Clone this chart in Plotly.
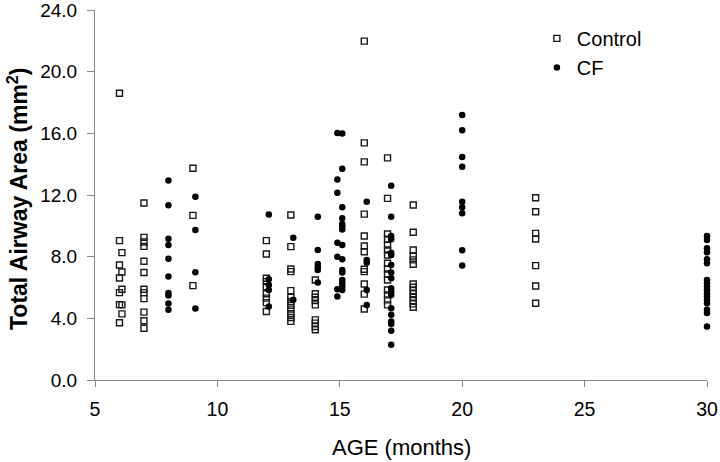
import plotly.graph_objects as go

# ---- Data ----
control_age = (
    [6.0] * 7 + [6.1] * 5 + [7.0] * 12 + [9.0] * 3 + [12.0] * 9 + [13.0] * 12
    + [14.0] * 9 + [16.0] * 12 + [16.95] * 15 + [18.0] * 14 + [23.0] * 7
)
control_area = [
    18.6, 9.04, 7.46, 6.62, 5.67, 4.89, 3.71,
    8.26, 7.01, 5.89, 4.87, 4.29,
    11.48, 9.25, 8.95, 8.67, 7.70, 6.97, 5.89, 5.67, 5.28, 4.40, 3.84, 3.36,
    13.74, 10.68, 6.12,
    9.04, 8.17, 6.6, 6.38, 6.06, 5.59, 5.31, 5.02, 4.44,
    10.7, 8.65, 7.2, 7.03, 5.8, 5.37, 5.1, 4.85, 4.6, 4.3, 4.05, 3.8,
    6.49, 5.59, 5.37, 5.15, 4.87, 3.9, 3.69, 3.47, 3.26,
    21.98, 15.38, 14.15, 10.76, 9.34, 8.69, 8.32, 7.18, 7.03, 6.23, 5.57, 4.61,
    14.41, 11.78, 9.47, 9.13, 8.76, 8.43, 8.11, 7.57, 7.2, 6.88, 6.49, 5.84, 5.52, 5.2, 4.87,
    11.35, 9.58, 8.43, 8.04, 7.79, 7.51, 6.23, 6.02, 5.8, 5.59, 5.37, 5.15, 4.94, 4.72,
    11.82, 10.91, 9.51, 9.15, 7.42, 6.1, 4.98,
]

cf_age = (
    [8.0] * 10 + [9.1] * 4 + [12.1] * 5 + [13.1] * 2 + [14.1] * 6 + [14.9] * 7
    + [15.1] * 15 + [16.1] * 5 + [17.1] * 18 + [20.0] * 9 + [30.0] * 17
)
cf_area = [
    12.94, 11.33, 9.17, 8.76, 7.87, 6.71, 5.65, 5.48, 4.96, 4.55,
    11.89, 9.73, 6.99, 4.64,
    10.74, 6.54, 6.17, 5.84, 4.77,
    9.23, 5.2,
    10.59, 8.43, 7.53, 7.31, 7.14, 6.32,
    16.02, 13.01, 12.14, 8.91, 8.0, 5.89, 5.41,
    15.99, 13.7, 11.2, 10.49, 10.12, 9.94, 9.77, 8.76, 7.83, 7.14, 6.97, 6.49, 6.28, 6.06, 5.84,
    11.56, 7.79, 7.61, 5.84, 4.87,
    12.6, 10.59, 9.34, 9.13, 8.26, 8.11, 7.46, 6.97, 6.6, 5.95, 5.73, 5.52, 4.66, 4.23, 3.79, 3.64, 3.19, 2.28,
    17.19, 16.2, 14.47, 13.83, 11.56, 11.2, 10.81, 8.41, 7.42,
    9.34, 9.08, 8.54, 8.28, 7.83, 7.57, 6.49, 6.28, 6.06, 5.84, 5.63, 5.41, 5.2, 4.98, 4.55, 4.34, 3.47,
]

x_ticks = [5, 10, 15, 20, 25, 30]
y_ticks = [0, 4, 8, 12, 16, 20, 24]
y_tick_labels = [f"{v:.1f}" for v in y_ticks]

FONT = "Liberation Sans, Arial, sans-serif"

fig = go.Figure()
fig.add_trace(go.Scatter(
    x=control_age, y=control_area, mode="markers", name="Control",
    marker=dict(symbol="square-open", size=6, color="#1a1a1a", line=dict(width=1.4, color="#1a1a1a")),
    cliponaxis=False,
))
fig.add_trace(go.Scatter(
    x=cf_age, y=cf_area, mode="markers", name="CF",
    marker=dict(symbol="circle", size=6.5, color="black", line=dict(width=0)),
    cliponaxis=False,
))

fig.update_layout(
    width=720, height=462,
    margin=dict(l=95, r=13, t=10, b=82, autoexpand=False),
    paper_bgcolor="white", plot_bgcolor="white",
    font=dict(family=FONT, size=19, color="black"),
    showlegend=True,
    legend=dict(
        x=0.722, y=0.976, xanchor="left", yanchor="top",
        font=dict(family=FONT, size=20, color="black"),
        bgcolor="rgba(0,0,0,0)", tracegroupgap=0,
    ),
    xaxis=dict(
        range=[5, 30], tickvals=x_ticks, ticktext=[str(v) for v in x_ticks],
        showgrid=False, zeroline=False, showline=True, linecolor="#888888", linewidth=1,
        ticks="outside", ticklen=6, tickcolor="#888888", tickwidth=1,
        tickfont=dict(family=FONT, size=19.5, color="black"), ticklabelstandoff=6,
        ticklabeloverflow="allow", automargin=False,
    ),
    yaxis=dict(
        range=[0, 24.0001], tickvals=y_ticks, ticktext=y_tick_labels,
        showgrid=False, zeroline=False, showline=True, linecolor="#888888", linewidth=1,
        ticks="outside", ticklen=7, tickcolor="#888888", tickwidth=1,
        tickfont=dict(family=FONT, size=19, color="black"), ticklabelstandoff=6,
        ticklabeloverflow="allow", automargin=False,
    ),
    annotations=[
        dict(
            text="<b>Total Airway Area (mm<sup>2</sup>)</b>",
            xref="paper", yref="paper", x=-0.127, y=0.49,
            xanchor="center", yanchor="middle", textangle=-90, showarrow=False,
            font=dict(family=FONT, size=23, color="black"),
        ),
        dict(
            text="AGE (months)",
            xref="paper", yref="paper", x=0.5, y=-0.183,
            xanchor="center", yanchor="middle", showarrow=False,
            font=dict(family=FONT, size=22, color="black"),
        ),
    ],
)

fig.write_html(
    "out.html",
    config={"displayModeBar": False},
    post_script="document.body.style.margin='0';document.body.style.overflow='hidden';",
)
